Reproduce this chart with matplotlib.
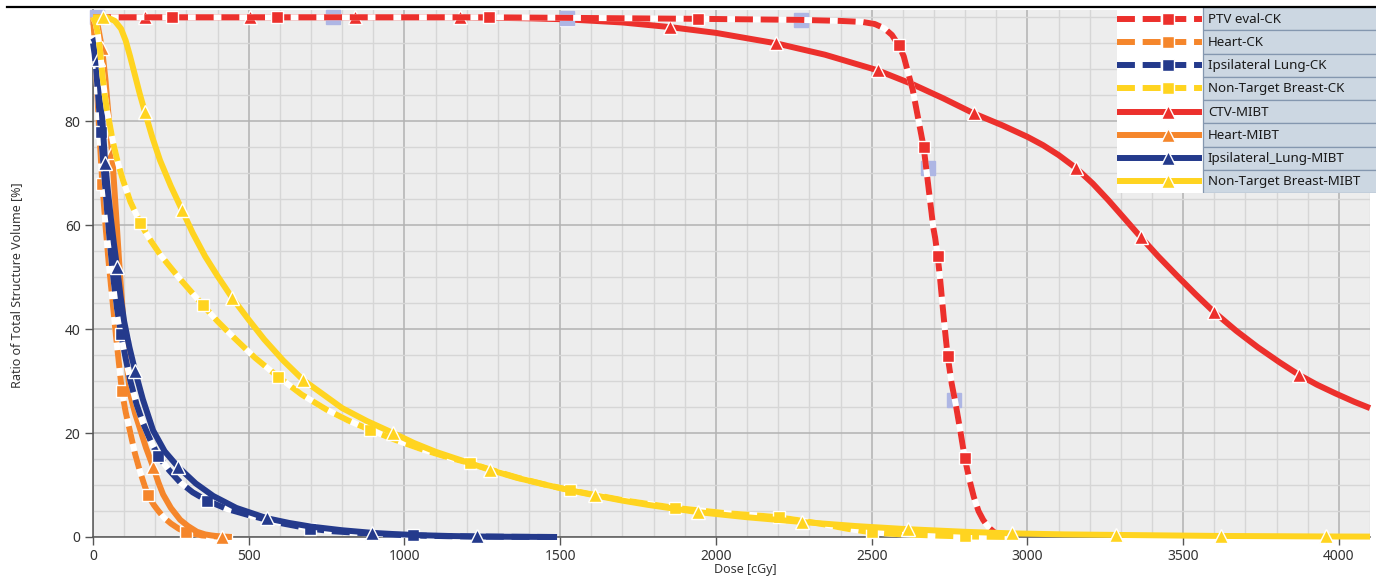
#!/usr/bin/env python3
"""plot.py - DVH comparison, CyberKnife vs MIBT
"""
from typing import List
import matplotlib
matplotlib.use("Agg")
import matplotlib.pyplot as plt
from matplotlib.axes import Axes
from matplotlib.lines import Line2D
from matplotlib.patches import Rectangle

W, H, DPI = 1376, 583, 100

# ---- data (dose in cGy, volume in %) ----
ptv_ck_dose = [0, 254, 591, 1000, 1270, 1500, 1944, 2270, 2400, 2470, 2510, 2540, 2565, 2587,
               2603, 2614, 2632, 2651, 2667, 2678, 2688, 2698, 2704, 2712, 2720, 2727, 2735, 2744,
               2757, 2770, 2785, 2799, 2814, 2828, 2843, 2858, 2876, 2896, 2920]
ptv_ck_vol = [100, 100, 100, 100, 100, 99.9, 99.7, 99.5, 99.3, 99.1, 98.7, 97.9, 96.6, 94.6,
              92.5, 90, 86, 80, 75, 69.5, 64.5, 59.5, 57.5, 54, 49.5, 45, 40, 34.8,
              29.5, 25.5, 20.3, 15.2, 11, 7.7, 5, 3.3, 1.8, 0.8, 0]
ptv_ck_marks = [254, 591, 1270, 1944, 2587, 2667, 2712, 2744, 2799]
# pale (highlighted) squares that sit under the PTV curve
ptv_ghost_dose = [13, 771, 1523, 2272, 2680, 2764]
ptv_ghost_vol = [100, 100, 99.9, 99.5, 71, 26.3]

heart_ck_dose = [0, 5, 10, 15, 20, 30, 40, 50, 60, 75, 93, 105, 120, 135, 150, 165, 177, 195,
                 210, 230, 250, 275, 300, 350, 400, 450]
heart_ck_vol = [100, 96, 90, 84, 78, 68, 60, 53, 47, 38, 28, 24, 20, 16, 12.8, 10, 8, 6.2,
                5, 3.6, 2.6, 1.6, 0.9, 0.3, 0.1, 0]
heart_ck_marks = [30, 93, 177, 300]

lung_ck_dose = [0, 5, 10, 17, 25, 35, 45, 55, 65, 77, 90, 105, 120, 140, 160, 185, 210, 245, 280,
                320, 366, 430, 500, 600, 697, 770, 850, 940, 1028, 1140, 1250, 1370, 1490]
lung_ck_vol = [95, 93, 90, 84.5, 78, 70.5, 63, 56, 50, 44, 39, 34.3, 30, 25.5, 22, 18.5, 15.5,
               12.8, 10.5, 8.6, 7.0, 5.4, 4.2, 2.7, 1.6, 1.1, 0.8, 0.5, 0.3, 0.15, 0.08, 0.03, 0]
lung_ck_marks = [25, 90, 210, 366, 697, 1028]

breast_ck_dose = [0, 8, 15, 22, 30, 38, 45, 55, 64, 80, 96, 120, 151, 180, 215, 250, 280, 315,
                  353, 400, 450, 520, 595, 670, 750, 820, 890, 970, 1050, 1130, 1211, 1290, 1370,
                  1450, 1533, 1620, 1700, 1790, 1870, 1950, 2030, 2120, 2201, 2280, 2350, 2420,
                  2500, 2570, 2650, 2720, 2800, 2950]
breast_ck_vol = [100, 99, 97, 94, 89, 85, 82, 79, 76, 72, 68.7, 64.5, 60.5, 57.5, 54.4, 51.8,
                 49.6, 47.2, 44.6, 41.5, 38.5, 34.5, 30.8, 27.4, 24.5, 22.4, 20.6, 18.7, 17, 15.5,
                 14.2, 12.7, 11.3, 10.1, 9, 8, 7.1, 6.3, 5.6, 5.1, 4.6, 4.2, 3.8, 3.1, 2.4, 1.6,
                 0.9, 0.6, 0.4, 0.25, 0.1, 0]
breast_ck_marks = [151, 353, 595, 890, 1211, 1533, 1870, 2201, 2500, 2800]

ctv_mibt_dose = [0, 167, 504, 842, 1179, 1400, 1523, 1700, 1854, 2000, 2192, 2350, 2519, 2632,
                 2730, 2828, 2920, 3000, 3050, 3100, 3156, 3210, 3260, 3310, 3364, 3420, 3480,
                 3540, 3599, 3670, 3740, 3810, 3872, 3930, 3990, 4050, 4100]
ctv_mibt_vol = [100, 100, 100, 100, 100, 99.8, 99.6, 99.0, 98.1, 97.0, 95.0, 92.8, 89.8, 87.1,
                84.4, 81.5, 79.2, 77, 75.4, 73.5, 71.0, 68.0, 64.8, 61.4, 57.7, 54.0, 50.3,
                46.7, 43.3, 39.7, 36.5, 33.6, 31.2, 29.3, 27.6, 26.0, 24.8]
ctv_mibt_marks = [167, 504, 842, 1179, 1523, 1854, 2192, 2519, 2828, 3156, 3364, 3599, 3872]

heart_mibt_dose = [0, 15, 29, 40, 50, 61, 72, 85, 100, 110, 119, 135, 151, 170, 193, 210, 225,
                   250, 280, 305, 334, 360, 380, 414, 440]
heart_mibt_vol = [100, 98.5, 94, 88, 81, 74, 64, 52, 39.5, 32.5, 27.5, 23.8, 20.8, 17.2, 13.5,
                  10.5, 8.2, 5.6, 3.3, 2.1, 1.0, 0.5, 0.3, 0.05, 0]
heart_mibt_marks = [29, 61, 100, 193, 414]

lung_mibt_dose = [0, 5, 10, 16, 22, 27, 33, 39, 48, 58, 67, 77, 88, 100, 117, 135, 160, 193, 230,
                  273, 330, 386, 460, 559, 630, 700, 800, 896, 970, 1050, 1140, 1233, 1330, 1400,
                  1490]
lung_mibt_vol = [96, 95.5, 94, 92, 87, 83, 77.5, 72, 66.5, 61, 56.5, 52, 46.5, 41.5, 36.5, 32,
                 26.5, 20.5, 16.5, 13.5, 10.3, 7.9, 5.6, 3.6, 2.7, 2.0, 1.3, 0.8, 0.55, 0.35, 0.2,
                 0.1, 0.05, 0.03, 0]
lung_mibt_marks = [16, 39, 77, 135, 273, 559, 896, 1233]

breast_mibt_dose = [0, 32, 45, 70, 90, 105, 119, 135, 150, 167, 190, 215, 250, 286, 320, 360, 400,
                    447, 500, 550, 610, 675, 740, 800, 880, 964, 1030, 1100, 1190, 1276, 1360,
                    1450, 1530, 1613, 1700, 1780, 1860, 1941, 2100, 2275, 2450, 2616, 2800, 2950,
                    3120, 3284, 3450, 3621, 3800, 3959, 4100]
breast_mibt_vol = [100, 100, 100, 99.3, 97.8, 95.5, 92.5, 88.8, 85.3, 81.7, 77, 72.5, 67.5, 62.9,
                   58.5, 54, 50.2, 46, 41.8, 38, 34, 30.2, 27.4, 24.8, 22.3, 20, 18.1, 16.4, 14.6,
                   12.9, 11.4, 10.1, 9.0, 8.0, 7.0, 6.2, 5.5, 4.8, 3.8, 2.9, 2.1, 1.5, 1.0, 0.7,
                   0.5, 0.4, 0.3, 0.2, 0.15, 0.1, 0.08]
breast_mibt_marks = [32, 167, 286, 447, 675, 964, 1276, 1613, 1941, 2275, 2616, 2950, 3284, 3621,
                     3959]

legend_names = ["PTV eval-CK", "Heart-CK", "Ipsilateral Lung-CK", "Non-Target Breast-CK",
                "CTV-MIBT", "Heart-MIBT", "Ipsilateral_Lung-MIBT", "Non-Target Breast-MIBT"]

RED = "#EC302C"
ORANGE = "#F5862B"
NAVY = "#243A8C"
YELLOW = "#FFD420"
GHOST = "#AEB6E4"
LW = 4.3
DASH = (3.0, 1.3)
FONT = ["Noto Sans", "DejaVu Sans"]


def draw_dvh(ax: Axes, dose: List[float], vol: List[float], color: str, dashed: bool,
             mark_doses: List[float], z: float) -> None:
    marks = [dose.index(d) for d in mark_doses]
    if dashed:
        # white underlay so the dash gaps show as white
        ax.plot(dose, vol, color="white", lw=LW, solid_capstyle="butt", solid_joinstyle="round",
                zorder=z, clip_on=False)
        ax.plot(dose, vol, color=color, lw=LW, dashes=DASH, dash_capstyle="butt",
                dash_joinstyle="round", marker="s", markevery=marks, ms=8.5, mfc=color,
                mec="white", mew=1.0, zorder=z + 0.1, clip_on=False)
    else:
        ax.plot(dose, vol, color=color, lw=LW, solid_capstyle="butt", solid_joinstyle="round",
                marker="^", markevery=marks, ms=10, mfc=color, mec="white", mew=1.0,
                zorder=z, clip_on=False)


def draw_legend(fig: plt.Figure) -> None:
    x0, x1, xs = 1117, 1376, 1203
    y0, y1 = 7, 193
    lax = fig.add_axes([x0 / W, 1 - y1 / H, (x1 - x0) / W, (y1 - y0) / H])
    lax.set_xlim(x0, x1)
    lax.set_ylim(y1, y0)
    lax.axis("off")
    lax.add_patch(Rectangle((x0, y0), xs - x0, y1 - y0, fc="white", ec="none"))
    row_h = (y1 - y0) / len(legend_names)
    styles = [(RED, True), (ORANGE, True), (NAVY, True), (YELLOW, True),
              (RED, False), (ORANGE, False), (NAVY, False), (YELLOW, False)]
    for i, (name, (color, dashed)) in enumerate(zip(legend_names, styles)):
        top = y0 + i * row_h
        yc = top + row_h / 2
        lax.add_patch(Rectangle((xs, top), x1 - xs + 2, row_h, fc="#CCD7E2", ec="#8497AF", lw=0.9))
        lx = [x0, 1168, xs - 1]
        if dashed:
            lax.plot(lx, [yc] * 3, color=color, lw=LW, dashes=DASH, dash_capstyle="butt",
                     marker="s", markevery=[1], ms=8.5, mfc=color, mec="white", mew=1.0)
        else:
            lax.plot(lx, [yc] * 3, color=color, lw=LW, solid_capstyle="butt",
                     marker="^", markevery=[1], ms=10, mfc=color, mec="white", mew=1.0)
        lax.text(xs + 5, yc + 0.5, name, fontsize=9.6, family=FONT, color="#1A1A1A",
                 va="center", ha="left")


def main() -> None:
    fig = plt.figure(figsize=(W / DPI, H / DPI), dpi=DPI)
    ax = fig.add_axes([93 / W, 46 / H, (1370 - 93) / W, (537 - 10) / H])
    ax.set_facecolor("#EDEDED")
    ax.set_xlim(0, 4100)
    ax.set_ylim(0, 101.4)

    ax.set_xticks(range(0, 4001, 500))
    ax.set_xticks(range(0, 4101, 100), minor=True)
    ax.set_yticks(range(0, 81, 20))
    ax.set_yticks(range(0, 101, 5), minor=True)
    ax.grid(which="minor", color="#D6D6D6", lw=1.0)
    ax.grid(which="major", color="#B2B2B2", lw=1.1)
    ax.set_axisbelow(True)
    ax.tick_params(which="major", direction="out", length=6, width=1, color="#555555",
                   labelsize=10, labelcolor="#333333", pad=3)
    ax.tick_params(which="minor", length=0)
    for lab in ax.get_xticklabels() + ax.get_yticklabels():
        lab.set_family(FONT)
    for side in ("top", "right"):
        ax.spines[side].set_visible(False)
    for side in ("left", "bottom"):
        ax.spines[side].set_color("#555555")
        ax.spines[side].set_linewidth(1.1)

    draw_dvh(ax, ctv_mibt_dose, ctv_mibt_vol, RED, False, ctv_mibt_marks, 3)
    ax.plot(ptv_ghost_dose, ptv_ghost_vol, ls="none", marker="s", ms=9.5, mfc=GHOST, mec=GHOST,
            zorder=3.5, clip_on=False)
    draw_dvh(ax, ptv_ck_dose, ptv_ck_vol, RED, True, ptv_ck_marks, 4)
    draw_dvh(ax, heart_ck_dose, heart_ck_vol, ORANGE, True, heart_ck_marks, 5)
    draw_dvh(ax, heart_mibt_dose, heart_mibt_vol, ORANGE, False, heart_mibt_marks, 5.5)
    draw_dvh(ax, lung_ck_dose, lung_ck_vol, NAVY, True, lung_ck_marks, 6)
    draw_dvh(ax, lung_mibt_dose, lung_mibt_vol, NAVY, False, lung_mibt_marks, 6.5)
    draw_dvh(ax, breast_ck_dose, breast_ck_vol, YELLOW, True, breast_ck_marks, 7)
    draw_dvh(ax, breast_mibt_dose, breast_mibt_vol, YELLOW, False, breast_mibt_marks, 7.5)

    fig.text(745 / W, 1 - 570 / H, "Dose [cGy]", fontsize=9, family=FONT, color="#333333",
             ha="center", va="center")
    fig.text(17 / W, 1 - 285 / H, "Ratio of Total Structure Volume [%]", fontsize=9,
             family=FONT, color="#333333", ha="center", va="center", rotation=90)
    # thin black rule across the top of the picture
    fig.add_artist(Line2D([7 / W, 1], [1 - 7 / H] * 2, color="black", lw=1.6))

    draw_legend(fig)
    fig.savefig("out.png", dpi=DPI)


if __name__ == "__main__":
    main()
